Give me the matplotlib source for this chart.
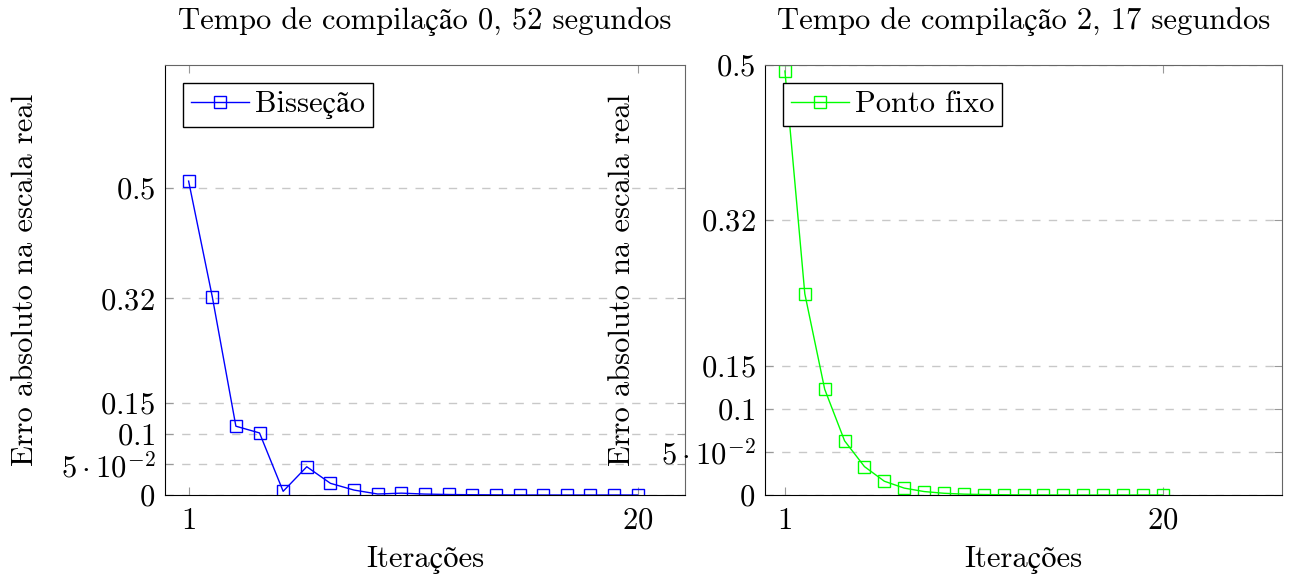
import matplotlib
matplotlib.use('Agg')
import matplotlib.pyplot as plt
import numpy as np

plt.rcParams['font.family'] = ['cmr10', 'STIXGeneral', 'DejaVu Serif']
plt.rcParams['mathtext.fontset'] = 'cm'
plt.rcParams['axes.formatter.use_mathtext'] = True

# Data
iters = list(range(1, 21))
bissecao = [0.511, 0.323, 0.112, 0.101, 0.006, 0.046, 0.019, 0.008, 0.0016, 0.003,
            0.0015, 0.0008, 0.0004, 0.0002, 0.0001, 0.0, 0.0, 0.0, 0.0, 0.0]
ponto_fixo = [0.493, 0.234, 0.123, 0.063, 0.033, 0.016, 0.008, 0.004, 0.002, 0.001,
              0.0005, 0.0003, 0.0001, 0.0001, 0.0, 0.0, 0.0, 0.0, 0.0, 0.0]

yticks = [0, 0.05, 0.1, 0.15, 0.32, 0.5]
ytick_labels = ['$0$', r'$5\cdot10^{-2}$', '$0.1$', '$0.15$', '$0.32$', '$0.5$']
xticks = [1, 20]
xtick_labels = ['$1$', '$20$']

titles = ['Tempo de compilação 0, 52 segundos', 'Tempo de compilação 2, 17 segundos']
ylabel = 'Erro absoluto na escala real'
xlabel = 'Iterações'

FS = 22

fig = plt.figure(figsize=(12.98, 5.82), dpi=100)
ax1 = fig.add_axes([0.1271, 0.1495, 0.4006, 0.7388])
ax2 = fig.add_axes([0.5894, 0.1495, 0.3983, 0.7388])


def style(ax, ymax, xmax, ylab_x):
    ax.set_xlim(0, xmax)
    ax.set_ylim(0, ymax)
    ax.set_yticks(yticks)
    ax.set_yticklabels(ytick_labels, fontsize=FS)
    ax.set_xticks(xticks)
    ax.set_xticklabels(xtick_labels, fontsize=FS)
    ax.tick_params(direction='in', length=6, color='#999999', top=True, right=True, pad=7)
    ax.tick_params(axis='x', pad=9)
    ax.grid(True, axis='y', ls=(0, (6, 6)), color='#c8c8c8', lw=1)
    ax.set_axisbelow(True)
    for s in ['top', 'right']:
        ax.spines[s].set_color('#666666')
    for s in ['left', 'bottom']:
        ax.spines[s].set_color('black')
    ax.set_xlabel(xlabel, fontsize=FS, va='center')
    ax.xaxis.set_label_coords(0.5, -0.152)
    ax.set_ylabel(ylabel, fontsize=FS, va='center')
    ax.yaxis.set_label_coords(ylab_x, 0.5)


ax1.plot(iters, bissecao, color='blue', lw=1, marker='s', ms=9,
         mfc='none', mec='blue', mew=1, label='Bisseção')
style(ax1, 0.7, 22, -0.269)
ax1.set_title(titles[0], fontsize=FS, pad=26)

ax2.plot(iters, ponto_fixo, color='#00ff00', lw=1, marker='s', ms=9,
         mfc='none', mec='#00ff00', mew=1, label='Ponto fixo')
style(ax2, 0.5, 26, -0.277)
ax2.set_title(titles[1], fontsize=FS, pad=26)

for ax in (ax1, ax2):
    leg = ax.legend(loc='upper left', fontsize=FS, fancybox=False, framealpha=1,
                    edgecolor='black', handlelength=1.9, handletextpad=0.2,
                    borderpad=0.25, borderaxespad=0.6)
    leg.get_frame().set_linewidth(1)

fig.savefig('out.png', dpi=100)
